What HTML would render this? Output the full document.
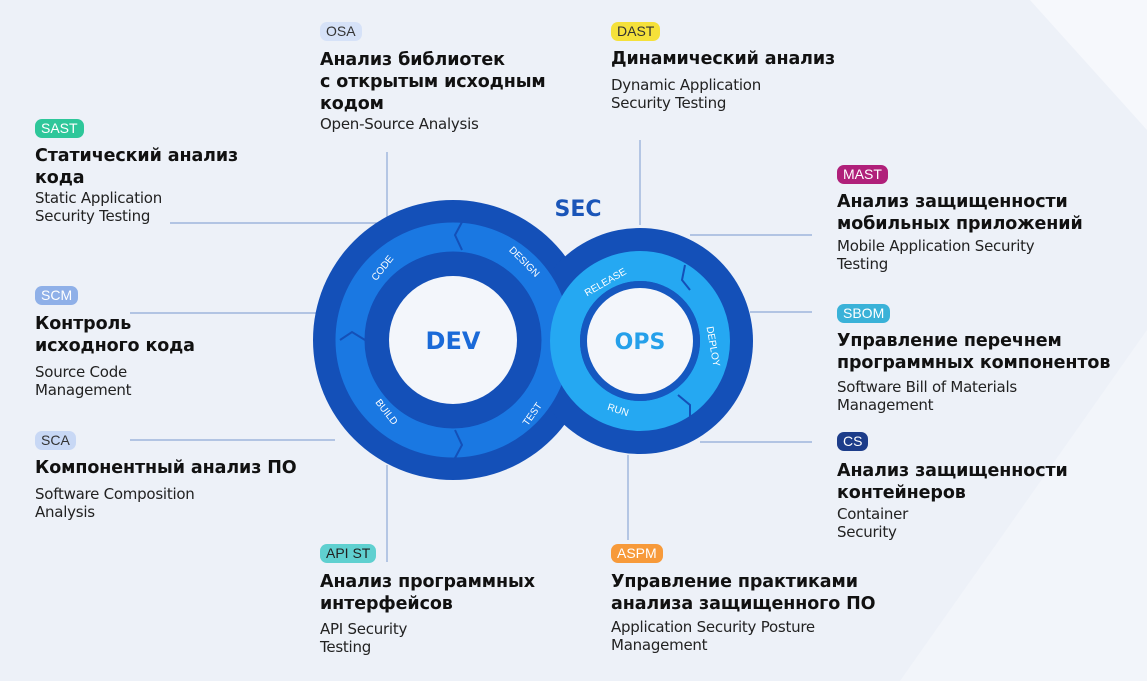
<!DOCTYPE html>
<html><head><meta charset="utf-8"><style>
body{margin:0;width:1147px;height:681px;overflow:hidden;background:#edf1f8;font-family:"DejaVu Sans","Liberation Sans",sans-serif;position:relative;color:#111}
.b{position:absolute;font-family:"Liberation Sans",sans-serif;font-size:14px;line-height:19px;height:19px;padding:0 6px;border-radius:7px;}
.t{position:absolute;font-weight:bold;font-size:17.5px;line-height:22px;white-space:nowrap;letter-spacing:-0.1px}
.s{position:absolute;font-size:15px;line-height:18px;white-space:nowrap;color:#222;letter-spacing:-0.25px}
svg{position:absolute;left:0;top:0}
</style></head><body>
<svg width="1147" height="681">
<polygon points="1030,0 1147,0 1147,130" fill="#f6f8fc"/>
<polygon points="1147,330 1147,681 900,681" fill="#f2f5fa"/>
<g stroke="#8ea9d6" stroke-width="1.2" fill="none">
<line x1="170" y1="223" x2="390" y2="223"/>
<line x1="387" y1="152" x2="387" y2="222"/>
<line x1="640" y1="140" x2="640" y2="225"/>
<line x1="690" y1="235" x2="812" y2="235"/>
<line x1="130" y1="313" x2="320" y2="313"/>
<line x1="750" y1="312" x2="812" y2="312"/>
<line x1="130" y1="440" x2="335" y2="440"/>
<line x1="700" y1="442" x2="812" y2="442"/>
<line x1="387" y1="465" x2="387" y2="562"/>
<line x1="628" y1="455" x2="628" y2="540"/>
</g>
<circle cx="453" cy="340" r="140" fill="#1450b8"/>
<circle cx="640" cy="341" r="113" fill="#1450b8"/>
<circle cx="453" cy="340" r="103" fill="none" stroke="#1a78e2" stroke-width="29"/>
<circle cx="453" cy="340" r="88" fill="#1450b8"/>
<circle cx="453" cy="340" r="64" fill="#f3f6fb"/>
<circle cx="640" cy="341" r="75" fill="none" stroke="#25a8f2" stroke-width="30"/>
<circle cx="640" cy="341" r="60" fill="#1558c0"/>
<circle cx="640" cy="341" r="53" fill="#f3f6fb"/>
<g stroke="#1450b8" stroke-width="2" fill="none">
<polyline points="462,222 455,235 462,250"/>
<polyline points="340,340 352,332 365,340"/>
<polyline points="455,430 462,445 455,458"/>
<polyline points="685,265 682,280 690,290"/>
<polyline points="678,395 690,405 690,418"/>
</g>
<g fill="#fff" font-size="10" font-family="Liberation Sans,sans-serif" text-anchor="middle">
<text transform="translate(385,270) rotate(-52)">CODE</text>
<text transform="translate(522,264) rotate(45)">DESIGN</text>
<text transform="translate(384,414) rotate(52)">BUILD</text>
<text transform="translate(535,416) rotate(-55)">TEST</text>
<text transform="translate(607,285) rotate(-30)">RELEASE</text>
<text transform="translate(710,347) rotate(80)">DEPLOY</text>
<text transform="translate(617,413) rotate(18)">RUN</text>
</g>
<text x="453" y="349" text-anchor="middle" font-size="24" font-weight="bold" fill="#1a6ad8" font-family="DejaVu Sans,sans-serif">DEV</text>
<text x="640" y="349" text-anchor="middle" font-size="22" font-weight="bold" fill="#25a0ea" font-family="DejaVu Sans,sans-serif">OPS</text>
<text x="578" y="216" text-anchor="middle" font-size="22" font-weight="bold" fill="#1a55b8" font-family="DejaVu Sans,sans-serif">SEC</text>
</svg>

<div class="b" style="left:320px;top:22px;background:#d6e2f8;color:#333">OSA</div>
<div class="t" style="left:320px;top:49px">Анализ библиотек<br>с открытым исходным<br>кодом</div>
<div class="s" style="left:320px;top:115px">Open-Source Analysis</div>

<div class="b" style="left:611px;top:22px;background:#f5e13a;color:#333">DAST</div>
<div class="t" style="left:611px;top:48px">Динамический анализ</div>
<div class="s" style="left:611px;top:76px">Dynamic Application<br>Security Testing</div>

<div class="b" style="left:35px;top:119px;background:#2ec79a;color:#fff">SAST</div>
<div class="t" style="left:35px;top:145px">Статический анализ<br>кода</div>
<div class="s" style="left:35px;top:189px">Static Application<br>Security Testing</div>

<div class="b" style="left:837px;top:165px;background:#b0207a;color:#fff">MAST</div>
<div class="t" style="left:837px;top:191px">Анализ защищенности<br>мобильных приложений</div>
<div class="s" style="left:837px;top:237px">Mobile Application Security<br>Testing</div>

<div class="b" style="left:35px;top:286px;background:#8fb0e8;color:#fff">SCM</div>
<div class="t" style="left:35px;top:313px">Контроль<br>исходного кода</div>
<div class="s" style="left:35px;top:363px">Source Code<br>Management</div>

<div class="b" style="left:837px;top:304px;background:#3ab2d8;color:#fff">SBOM</div>
<div class="t" style="left:837px;top:330px">Управление перечнем<br>программных компонентов</div>
<div class="s" style="left:837px;top:378px">Software Bill of Materials<br>Management</div>

<div class="b" style="left:35px;top:431px;background:#c8d8f5;color:#333">SCA</div>
<div class="t" style="left:35px;top:457px">Компонентный анализ ПО</div>
<div class="s" style="left:35px;top:485px">Software Composition<br>Analysis</div>

<div class="b" style="left:837px;top:432px;background:#1d3d8a;color:#fff">CS</div>
<div class="t" style="left:837px;top:460px">Анализ защищенности<br>контейнеров</div>
<div class="s" style="left:837px;top:505px">Container<br>Security</div>

<div class="b" style="left:320px;top:544px;background:#5fd0d0;color:#222">API ST</div>
<div class="t" style="left:320px;top:571px">Анализ программных<br>интерфейсов</div>
<div class="s" style="left:320px;top:620px">API Security<br>Testing</div>

<div class="b" style="left:611px;top:544px;background:#f79a3a;color:#fff">ASPM</div>
<div class="t" style="left:611px;top:571px">Управление практиками<br>анализа защищенного ПО</div>
<div class="s" style="left:611px;top:618px">Application Security Posture<br>Management</div>
</body></html>
